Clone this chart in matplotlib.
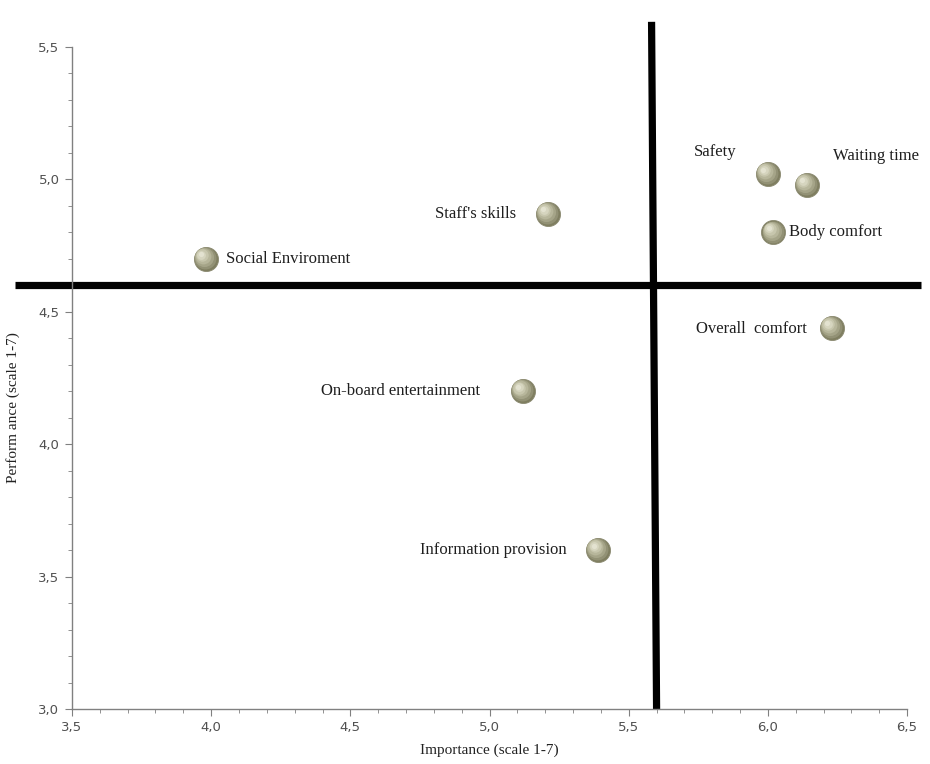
import matplotlib
matplotlib.use('Agg')
import matplotlib.pyplot as plt
from matplotlib.ticker import MultipleLocator, FuncFormatter
from matplotlib.transforms import ScaledTranslation

# attribute importance vs performance
names = ['Social Enviroment', "Staff's skills", 'Safety', 'Waiting time', 'Body comfort',
         'Overall  comfort', 'On-board entertainment', 'Information provision']
importance = [3.98, 5.21, 6.00, 6.14, 6.02, 6.23, 5.12, 5.39]
performance = [4.70, 4.87, 5.02, 4.98, 4.80, 4.44, 4.20, 3.60]

# label offsets in points and alignment
offsets = [(15, 0, 'left'), (-23, 0, 'right'), (-53, 16, 'left'), (19, 21, 'left'),
           (11, 0, 'left'), (-18, -1, 'right'), (-31, 0, 'right'), (-23, 0, 'right')]

mean_imp = 5.59
mean_perf = 4.60

fig = plt.figure(figsize=(9.3, 7.64), dpi=100)
ax = fig.add_axes([0.0774, 0.072, 0.898, 0.8665])

ax.set_xlim(3.5, 6.5)
ax.set_ylim(3.0, 5.5)

# quadrant lines, running past the plot area
ax.plot([3.295, 6.55], [mean_perf, mean_perf], color='black', lw=5.2, clip_on=False, zorder=2,
        solid_capstyle='butt')
ax.plot([mean_imp - 0.008, mean_imp + 0.01], [5.595, 3.0], color='black', lw=5.2, clip_on=False,
        zorder=2, solid_capstyle='butt')

# spheres: layered discs shifted to the upper left for a soft shading
ax.scatter(importance, performance, s=300, color='#7f7e60', edgecolor='#8a8970', lw=0.6, zorder=3)
layers = [(250, '#929175', 0.6), (190, '#a5a488', 1.3), (130, '#b7b69b', 2.0),
          (80, '#c7c6ad', 2.6), (40, '#d6d5bf', 3.0), (14, '#e3e2d0', 3.3)]
for z, (s, c, d) in enumerate(layers):
    tr = ax.transData + ScaledTranslation(-d / 72, d / 72, fig.dpi_scale_trans)
    ax.scatter(importance, performance, s=s, color=c, lw=0, zorder=4 + z, transform=tr)

for n, x, y, (dx, dy, ha) in zip(names, importance, performance, offsets):
    ax.annotate(n, (x, y), xytext=(dx, dy), textcoords='offset points', ha=ha, va='center',
                fontsize=12, family='Liberation Serif', color='#1e1e1e', zorder=12)

for s in ['top', 'right']:
    ax.spines[s].set_visible(False)
for s in ['left', 'bottom']:
    ax.spines[s].set_color('#808080')
    ax.spines[s].set_linewidth(1.0)

ax.xaxis.set_major_locator(MultipleLocator(0.5))
ax.xaxis.set_minor_locator(MultipleLocator(0.1))
ax.yaxis.set_major_locator(MultipleLocator(0.5))
ax.yaxis.set_minor_locator(MultipleLocator(0.1))
fmt = FuncFormatter(lambda v, p: ('%.1f' % v).replace('.', ','))
ax.xaxis.set_major_formatter(fmt)
ax.yaxis.set_major_formatter(fmt)
ax.tick_params(which='major', length=5, color='#808080', labelsize=9.5, labelcolor='#505050')
ax.tick_params(which='minor', length=3, color='#808080')
ax.tick_params(axis='x', pad=4)
ax.tick_params(axis='y', pad=4)

ax.set_xlabel('Importance (scale 1-7)', family='Liberation Serif', fontsize=11, color='#222222')
ax.set_ylabel('Perform ance (scale 1-7)', family='Liberation Serif', fontsize=11, color='#222222')
ax.xaxis.set_label_coords(0.5, -0.052)
ax.yaxis.set_label_coords(-0.062, 0.455)

plt.savefig('out.png', dpi=100)
